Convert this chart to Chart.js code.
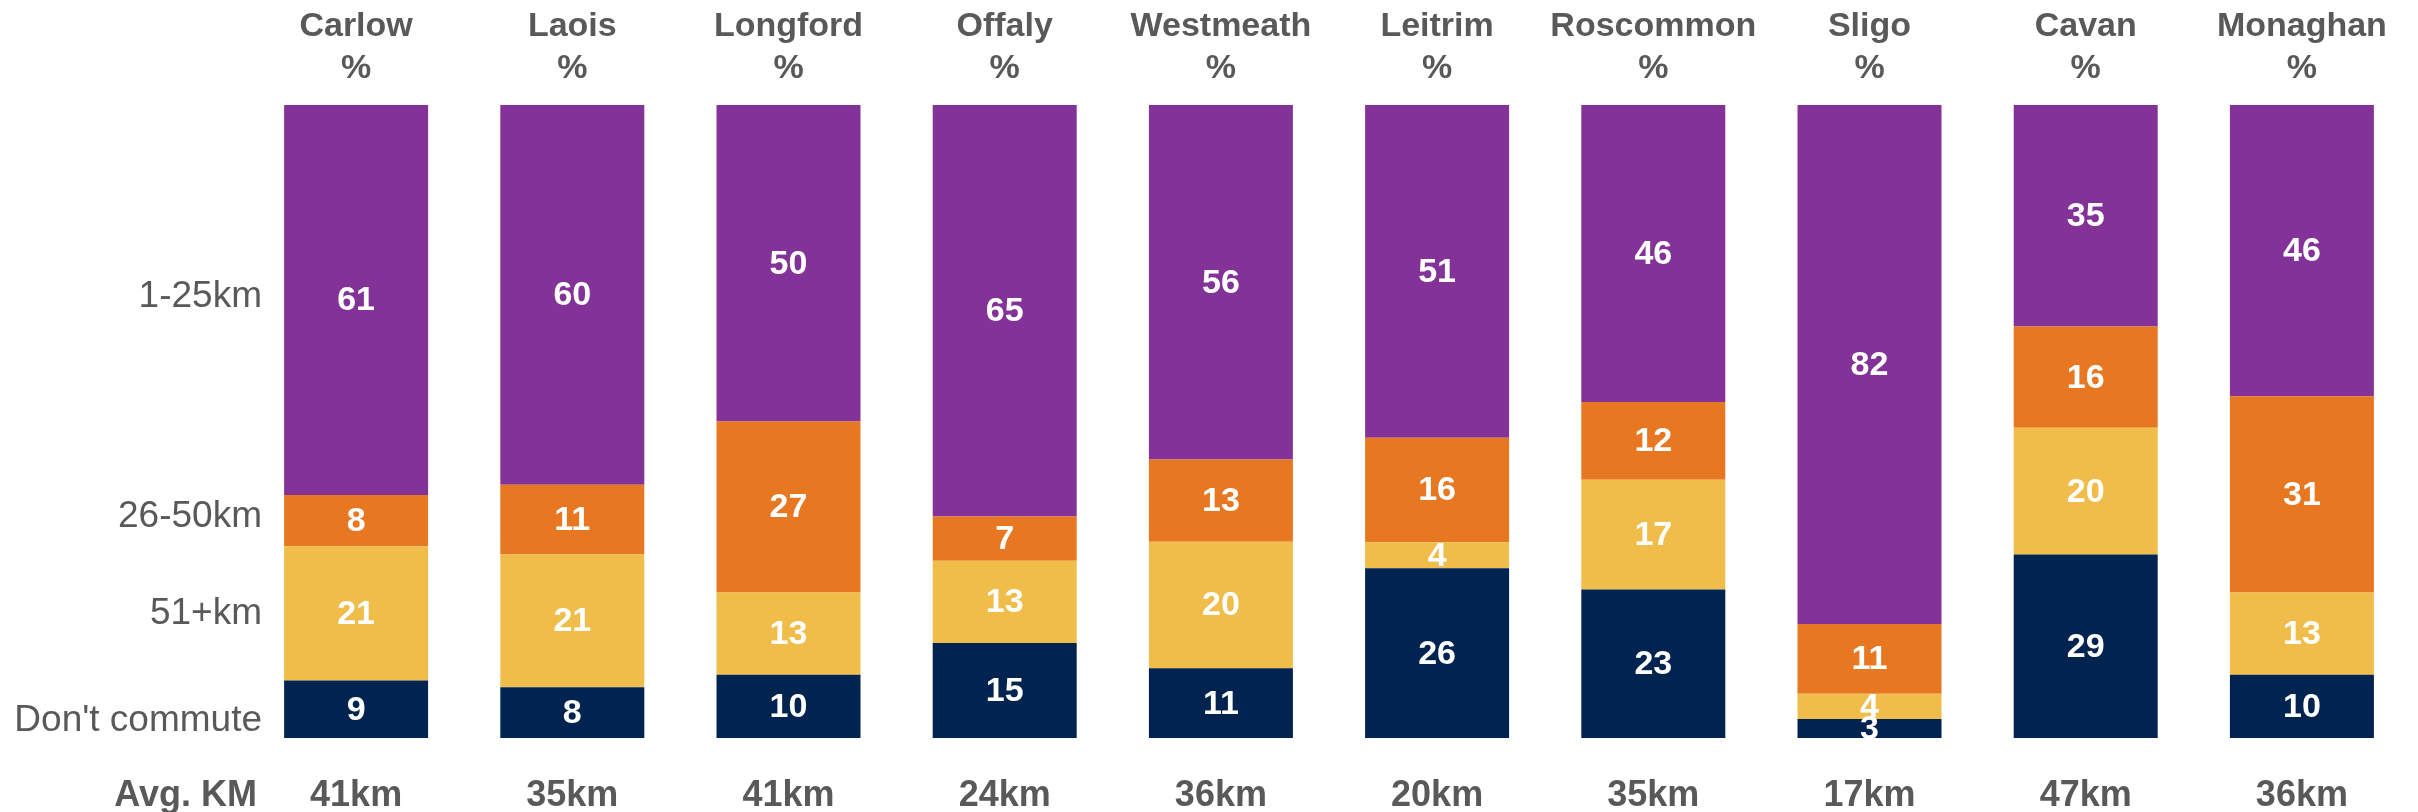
<!DOCTYPE html>
<html lang="en">
<head>
    <meta charset="UTF-8">
    <title>Commuting distance by county</title>
    <script src="https://cdn.jsdelivr.net/npm/chart.js"></script>
    <style>
        * { margin: 0; padding: 0; box-sizing: border-box; }
        body { background: #ffffff; }
        .chart-box { width: 2418px; height: 812px; }
    </style>
</head>
<body>
    <div class="chart-box"><canvas id="commuteChart"></canvas></div>

    <script>
        // counties and their values (%), bottom segment first
        const counties = ['Carlow', 'Laois', 'Longford', 'Offaly', 'Westmeath', 'Leitrim', 'Roscommon', 'Sligo', 'Cavan', 'Monaghan'];
        const dontCommute = [9, 8, 10, 15, 11, 26, 23, 3, 29, 10];
        const km51plus   = [21, 21, 13, 13, 20, 4, 17, 4, 20, 13];
        const km26to50   = [8, 11, 27, 7, 13, 16, 12, 11, 16, 31];
        const km1to25    = [61, 60, 50, 65, 56, 51, 46, 82, 35, 46];
        const avgKm = ['41km', '35km', '41km', '24km', '36km', '20km', '35km', '17km', '47km', '36km'];

        // row labels on the left and where they sit on the 0-100 scale
        const rowLabels = ["Don't commute", '51+km', '26-50km', '1-25km'];
        const rowLabelAt = [2.7, 19.6, 34.9, 69.7];

        const FONT = "'Liberation Sans', Arial, sans-serif";
        const GREY = '#595959';

        const series = [
            { label: "Don't commute", values: dontCommute, color: '#00244F' },
            { label: '51+km', values: km51plus, color: '#F0BD4A' },
            { label: '26-50km', values: km26to50, color: '#E87722' },
            { label: '1-25km', values: km1to25, color: '#833397' }
        ];

        // 100% stacked: each bar is scaled to its own total
        const totals = counties.map((c, i) => series.reduce((s, d) => s + d.values[i], 0));

        const valueLabels = {
            id: 'valueLabels',
            afterDatasetsDraw(chart) {
                const ctx = chart.ctx;
                ctx.save();
                ctx.fillStyle = '#ffffff';
                ctx.font = 'bold 34px ' + FONT;
                ctx.textAlign = 'center';
                ctx.textBaseline = 'middle';
                chart.data.datasets.forEach((ds, i) => {
                    chart.getDatasetMeta(i).data.forEach((bar, j) => {
                        const p = bar.getCenterPoint();
                        ctx.fillText(String(ds.raw[j]), p.x, p.y + 1);
                    });
                });
                ctx.restore();
            }
        };

        // left-hand row labels (they run into the plot area) and "Avg. KM"
        const sideLabels = {
            id: 'sideLabels',
            afterDraw(chart) {
                const ctx = chart.ctx;
                const y = chart.scales.y;
                const x2 = chart.scales.x2;
                ctx.save();
                ctx.fillStyle = GREY;
                ctx.textAlign = 'right';
                ctx.textBaseline = 'middle';
                ctx.font = '37px ' + FONT;
                rowLabels.forEach((t, i) => {
                    ctx.fillText(t, 262, y.getPixelForValue(rowLabelAt[i]));
                });
                ctx.font = 'bold 36px ' + FONT;
                ctx.fillText('Avg. KM', 257, x2.top + 36 + 21.6);
                ctx.restore();
            }
        };

        new Chart(document.getElementById('commuteChart'), {
            type: 'bar',
            data: {
                labels: counties.map(c => [c, '%']),
                datasets: series.map(s => ({
                    label: s.label,
                    raw: s.values,
                    data: s.values.map((v, i) => v / totals[i] * 100),
                    backgroundColor: s.color,
                    borderWidth: 0,
                    barPercentage: 0.666,
                    categoryPercentage: 1
                }))
            },
            options: {
                responsive: true,
                maintainAspectRatio: false,
                animation: false,
                layout: { padding: { left: 0, right: 8, top: 0, bottom: 0 } },
                plugins: {
                    legend: { display: false },
                    tooltip: { enabled: false }
                },
                scales: {
                    x: {
                        position: 'top',
                        stacked: true,
                        grid: { display: false, drawTicks: false },
                        border: { display: false },
                        ticks: {
                            color: GREY,
                            padding: 15,
                            maxRotation: 0,
                            autoSkip: false,
                            font: { family: FONT, size: 34, weight: 'bold', lineHeight: 42 / 34 }
                        },
                        afterFit(scale) { scale.height = 105; }
                    },
                    x2: {
                        type: 'category',
                        position: 'bottom',
                        labels: avgKm,
                        offset: true,
                        grid: { display: false, drawTicks: false },
                        border: { display: false },
                        ticks: {
                            color: GREY,
                            padding: 36,
                            maxRotation: 0,
                            autoSkip: false,
                            font: { family: FONT, size: 36, weight: 'bold', lineHeight: 1.2 }
                        },
                        afterFit(scale) { scale.height = 74; }
                    },
                    y: {
                        stacked: true,
                        min: 0,
                        max: 100,
                        grid: { display: false, drawTicks: false },
                        border: { display: false },
                        ticks: { display: false },
                        afterFit(scale) { scale.width = 248; }
                    }
                }
            },
            plugins: [valueLabels, sideLabels]
        });
    </script>
</body>
</html>
